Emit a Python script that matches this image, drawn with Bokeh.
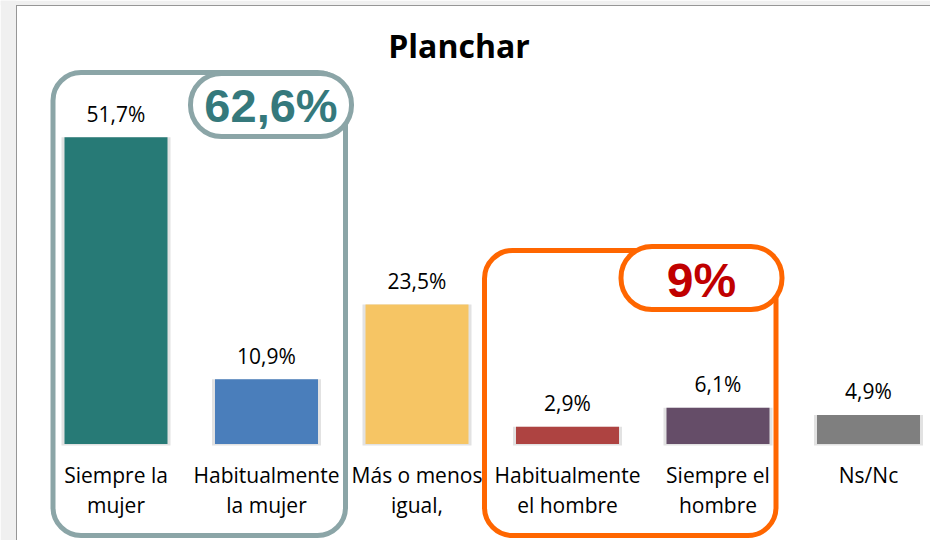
from bokeh.plotting import figure
from bokeh.models import Range1d, Label, BoxAnnotation, ColumnDataSource
from bokeh.core.properties import value
from bokeh.embed import file_html
from bokeh.resources import INLINE

# ---- data ----
title = "Planchar"
categories = ["Siempre la\nmujer", "Habitualmente\nla mujer", "Más o menos\nigual,",
              "Habitualmente\nel hombre", "Siempre el\nhombre", "Ns/Nc"]
values = [51.7, 10.9, 23.5, 2.9, 6.1, 4.9]
colors = ["#277A76", "#4A7EBB", "#F6C564", "#AE4341", "#654D68", "#7F7F7F"]
group_woman = [0, 1]
group_man = [3, 4]

# ---- geometry helpers (pixel scale of the reference) ----
W, H = 930, 540
PX_X = 150.5          # pixels per category
PX_Y = 5.934          # pixels per percentage point
X0 = 115.5            # canvas x of first category centre
Y0 = 443.5            # canvas y of baseline


def fmt(v):
    return f"{v:.1f}".replace(".", ",") + "%"


def fmt_total(v):
    v = round(v, 1)
    if abs(v - round(v)) < 1e-9:
        return f"{int(round(v))}%"
    return fmt(v)


dy = lambda px: px / PX_Y
dx = lambda px: px / PX_X
cx = lambda px: (px - X0) / PX_X     # canvas px -> data x
cy = lambda px: (Y0 - px) / PX_Y     # canvas px -> data y

xs = list(range(len(categories)))
line1 = [c.split("\n")[0] for c in categories]
line2 = [c.split("\n")[1] if "\n" in c else "" for c in categories]
labels = [fmt(v) for v in values]

src = ColumnDataSource(dict(
    x=xs, top=values, color=colors, label=labels,
    ly=[v + dy(23.5) for v in values],
    l1=line1, l2=line2,
    y1=[cy(474.5)] * len(xs), y2=[cy(504.5)] * len(xs),
))

p = figure(width=W, height=H, output_backend="svg", toolbar_location=None,
           x_range=Range1d(cx(0), cx(W)), y_range=Range1d(cy(H), cy(0)),
           min_border=0, min_border_left=0, min_border_right=0,
           min_border_top=0, min_border_bottom=0)
p.axis.visible = False
p.grid.visible = False
p.outline_line_color = None
p.background_fill_color = "white"
p.border_fill_color = "white"

# outer chart frame: grey margin + border lines (left, top)
fl, ft = cx(15.5), cy(4.5)
p.add_layout(BoxAnnotation(right=fl, fill_color="#f0f0f0", fill_alpha=1.0, line_alpha=0))
p.add_layout(BoxAnnotation(bottom=ft, fill_color="#f0f0f0", fill_alpha=1.0, line_alpha=0))
p.segment(x0=[fl, fl], y0=[ft, ft], x1=[fl, cx(W)], y1=[cy(H), ft],
          line_color="#969696", line_width=2)

# bars with a faint shadow
bw = dx(103)
p.vbar(x="x", top="top", bottom=-dy(1.5), width=bw + dx(6), source=src,
       fill_color="#e2e2e2", line_color=None)
p.vbar(x="x", top="top", bottom=0, width=bw, source=src,
       fill_color="color", line_color=None)

# value labels
p.text(x="x", y="ly", text="label", source=src, text_font=value("Open Sans"),
       text_font_size="21px", text_align="center", text_baseline="middle",
       text_color="#000000")

# category labels
for col, ycol in (("l1", "y1"), ("l2", "y2")):
    p.text(x="x", y=ycol, text=col, source=src, text_font=value("Open Sans"),
           text_font_size="21px", text_align="center", text_baseline="middle",
           text_color="#000000")

# title
p.add_layout(Label(x=cx(458.5), y=cy(45), text=title,
                   text_font="Open Sans", text_font_style="bold",
                   text_font_size="32px", text_align="center",
                   text_baseline="middle", text_color="#000000"))


def group_box(idx, box_lr, top_px, pill_lr, pill_top_px, color, txt_color, total,
              size, txt_dy):
    a, b = min(idx), max(idx)
    p.quad(left=[a + dx(box_lr[0])], right=[b + dx(box_lr[1])],
           top=[cy(top_px)], bottom=[cy(535)],
           fill_color=None, line_color=color, line_width=5, border_radius=28)
    pl = b + dx(pill_lr[0])
    pr = b + dx(pill_lr[1])
    p.quad(left=[pl], right=[pr], top=[cy(pill_top_px)], bottom=[cy(pill_top_px + 63)],
           fill_color="white", line_color=color, line_width=5, border_radius=31)
    p.text(x=[(pl + pr) / 2], y=[cy(pill_top_px + 31.5 + txt_dy)], text=[total],
           text_font=value("Liberation Sans"), text_font_style="bold",
           text_font_size=size, text_align="center", text_baseline="middle",
           text_color=txt_color)


group_box(group_woman, (-63, 79), 72, (-76, 85), 73, "#8BA5A7", "#35797C",
          fmt_total(sum(values[i] for i in group_woman)), "47px", 0)
group_box(group_man, (-83, 58), 250, (-97, 64), 246, "#FF6600", "#C00000",
          fmt_total(sum(values[i] for i in group_man)), "48px", 2.5)

open("out.html", "w").write(file_html(p, INLINE))
